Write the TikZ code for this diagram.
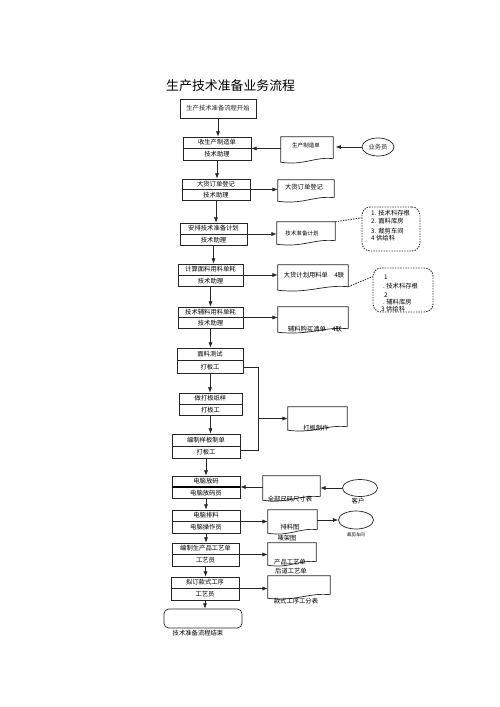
\documentclass[tikz,border=0pt]{standalone}
\usepackage{fontspec}
\setmainfont{Noto Sans CJK SC}
\usetikzlibrary{arrows.meta,calc,shapes.geometric}

% two-line task box: divider and its two texts
\newcommand{\taskparts}[3]{%
  \draw[conn] (#1.west) -- (#1.east);
  \node[lbl] (#1top) at ($(#1.north)!0.5!(#1.center)$) {#2};
  \node[lbl] (#1bot) at ($(#1.south)!0.5!(#1.center)$) {#3};
}
% document outline with a wavy bottom
\newcommand{\docshape}[1]{%
  \draw[conn] ([yshift=3pt]#1.south east) -- (#1.north east) -- (#1.north west) -- (#1.south west)
    .. controls ($(#1.south west)!0.45!(#1.south east)+(0,-3pt)$) and ($(#1.south east)!0.35!(#1.south west)+(0,5pt)$) .. ([yshift=3pt]#1.south east);
}

\begin{document}
\begin{tikzpicture}[x=0.3mm, y=-0.3mm,
    boxsize/.style 2 args={minimum width=#1*0.3mm, minimum height=#2*0.3mm},
    conn/.style={line width=0.6pt, black!85},
    arr/.style={conn, -{Latex[length=4.5pt,width=3.5pt]}},
    lbl/.style={font=\fontsize{5.4}{6.5}\selectfont, inner sep=0pt},
    lblsmall/.style={font=\fontsize{4.7}{5.5}\selectfont, inner sep=0pt},
    lbltiny/.style={font=\fontsize{3.8}{4.5}\selectfont, inner sep=0pt},
    taskbox/.style={draw, conn, inner sep=0pt, font=\fontsize{5.4}{6.5}\selectfont},
    docbox/.style={inner sep=0pt},
    actor/.style={draw, conn, ellipse, inner sep=0pt, font=\fontsize{5.4}{6.5}\selectfont},
    dotline/.style={line width=0.8pt, black!80, dash pattern=on 1.2pt off 1pt},
    notebox/.style={draw, dotline, rounded corners=7pt}]
    \fill[white] (0,0) rectangle (500,707);
    \useasboundingbox (0,0) rectangle (500,707);

    % Title
    \node[anchor=west, inner sep=0pt, font=\fontsize{11}{13}\selectfont] (title) at (166,86) {生产技术准备业务流程};

    % Main flow boxes
    \node[taskbox, boxsize={76}{19}] (start) at (218,108.5) {生产技术准备流程开始};
    \node[taskbox, boxsize={68}{23}] (b1) at (217,148.5) {}; \taskparts{b1}{收生产制造单}{技术助理}
    \node[taskbox, boxsize={68}{21}] (b2) at (216,189.5) {}; \taskparts{b2}{大货订单登记}{技术助理}
    \node[taskbox, boxsize={67}{22}] (b3) at (213.5,234) {}; \taskparts{b3}{安排技术准备计划}{技术助理}
    \node[taskbox, boxsize={65}{22}] (b4) at (210.5,275) {}; \taskparts{b4}{计算面料用料单耗}{技术助理}
    \node[taskbox, boxsize={65}{21}] (b5) at (210.5,317.5) {}; \taskparts{b5}{技术辅料用料单耗}{技术助理}
    \node[taskbox, boxsize={66}{25}] (b6) at (210,360.5) {}; \taskparts{b6}{面料测试}{打板工}
    \node[taskbox, boxsize={63}{22}] (b7) at (210.5,404) {}; \taskparts{b7}{做打板纸样}{打板工}
    \node[taskbox, boxsize={68}{24}] (b8) at (206,446) {}; \taskparts{b8}{编制样板制单}{打板工}
    \node[taskbox, boxsize={68}{22}] (b9) at (206,487) {}; \taskparts{b9}{电脑放码}{电脑放码员}
    \draw[line width=1.1pt] (b9.west) -- (b9.east);
    \node[taskbox, boxsize={68}{23}] (b10) at (206,521.5) {}; \taskparts{b10}{电脑排料}{电脑操作员}
    \node[taskbox, boxsize={67}{23}] (b11) at (205.5,554.5) {}; \taskparts{b11}{编制生产品工艺单}{工艺员}
    \node[taskbox, boxsize={68}{23}] (b12) at (205,588.5) {}; \taskparts{b12}{拟订款式工序}{工艺员}
    \node[taskbox, rounded corners=4pt, boxsize={78}{19}] (stop) at (203,618.5) {};
    \node[lbl] (stopt) at (198,633) {技术准备流程结束};

    % Documents
    \node[docbox, boxsize={52}{25}] (d1) at (307,149.5) {}; \docshape{d1}
    \node[lblsmall] (d1t) at (306,145) {生产制造单};
    \node[docbox, boxsize={56}{21}] (d2) at (306,190.5) {}; \docshape{d2}
    \node[lbl] (d2t) at (304,187) {大货订单登记};
    \node[docbox, boxsize={58}{22}] (d3) at (306,233) {}; \docshape{d3}
    \node[lblsmall] (d3t) at (302,233) {技术准备计划};
    \node[docbox, boxsize={70}{25}] (d4) at (313,277.5) {}; \docshape{d4}
    \node[lbl] (d4t) at (314,275) {大货计划用料单\quad 4联};
    \node[docbox, boxsize={70}{25}] (d5) at (313,319.5) {}; \docshape{d5}
    \node[lbl] (d5t) at (315,329) {辅料购买清单\quad 4联};
    \node[docbox, boxsize={59}{23}] (d6) at (317.5,418.5) {}; \docshape{d6}
    \node[lbl] (d6t) at (316,428) {打板制作};
    \node[docbox, boxsize={57}{24}] (d7) at (291.5,488) {}; \docshape{d7}
    \node[lbl] (d7t) at (290,499) {全部尺码尺寸表};
    \node[docbox, boxsize={49}{23}] (d8) at (292.5,521.5) {}; \docshape{d8}
    \node[lbl] (d8t) at (290,527) {排料图};
    \node[lbl] (d8b) at (287,538) {唛架图};
    \node[docbox, boxsize={48}{22}] (d9) at (292,554) {}; \docshape{d9}
    \node[lbl] (d9t) at (290,562) {产品工艺单};
    \node[lbl] (d9b) at (291,571) {后道工艺单};
    \node[docbox, boxsize={62}{22}] (d10) at (299,587) {}; \docshape{d10}
    \node[lbl] (d10t) at (296,601) {款式工序工分表};

    % Outside parties
    \node[actor, boxsize={32}{18}] (e1) at (378,147) {业务员};
    \node[actor, boxsize={35}{17}] (e2) at (360,488) {};
    \node[lbl] (e2t) at (358,501) {客户};
    \node[actor, boxsize={35}{18}] (e3) at (356,520) {};
    \node[lbltiny] (e3t) at (356,535) {裁剪车间};

    % Copy lists
    \node[notebox, boxsize={58}{44}] (c1) at (391,229) {};
    \node[lbl, anchor=west] (c1a) at (371,213) {1. 技术科存根};
    \node[lbl, anchor=west] (c1b) at (371,221) {2. 面料库房};
    \node[lbl, anchor=west] (c1c) at (371,231) {3. 裁剪车间};
    \node[lbl, anchor=west] (c1d) at (371,238) {4 供给科};
    \node[notebox, boxsize={60}{44}] (c2) at (403,290) {};
    \node[lbl, anchor=west] (c2a) at (384,277) {1};
    \node[lbl, anchor=west] (c2b) at (383,286) {.\ 技术科存根};
    \node[lbl, anchor=west] (c2c) at (384,295) {2};
    \node[lbl, anchor=west] (c2d) at (383,302) {.\ 辅料库房};
    \node[lbl, anchor=west] (c2e) at (381,309) {3 供给科};
    \draw[dotline] (d3.north east) -- ($(c1.north west)!0.25!(c1.south west)$);
    \draw[dotline] ([yshift=3pt]d4.south east) -- ($(c2.north west)!0.2!(c2.south west)$);

    % Main flow arrows
    \draw[arr] (start.south) -- (start.south |- b1.north);
    \draw[arr] (b1.south) -- (b1.south |- b2.north);
    \draw[arr] (b2.south) -- (b2.south |- b3.north);
    \draw[arr] (b3.south) -- (b3.south |- b4.north);
    \draw[arr] (b4.south) -- (b4.south |- b5.north);
    \draw[arr] (b5.south) -- (b5.south |- b6.north);
    \draw[arr] (b6.south) -- (b6.south |- b7.north);
    \draw[arr] (b7.south) -- (b7.south |- b8.north);
    \draw[arr] (b8.south) -- (b8.south |- b9.north);
    \draw[arr] (b9.south) -- (b9.south |- b10.north);
    \draw[arr] (b10.south) -- (b10.south |- b11.north);
    \draw[arr] (b11.south) -- (b11.south |- b12.north);
    \draw[arr] (b12.south) -- (b12.south |- stop.north);

    % Side arrows
    \draw[arr, shorten >=2pt] (e1.west) -- (e1.west -| d1.east);
    \draw[arr] (b1.east -| d1.west) -- (b1.east);
    \draw[arr] (b2.east) -- (b2.east -| d2.west);
    \draw[arr] (b3.east) -- (b3.east -| d3.west);
    \draw[arr] (b4.east) -- (b4.east -| d4.west);
    \draw[arr] (b5.east) -- (b5.east -| d5.west);
    \coordinate (jt) at (258,367);
    \coordinate (jb) at (258,450);
    \draw[conn] (b6.east |- jt) -- (jt) -- (jb) -- (b8.east |- jb);
    \draw[arr] (jt |- d6.west) -- (d6.west);
    \draw[arr] (e2.west) -- (e2.west -| d7.east);
    \draw[arr] (b9.east -| d7.west) -- (b9.east);
    \draw[arr] (b10.east) -- (b10.east -| d8.west);
    \draw[arr] (d8.east |- e3.west) -- (e3.west);
    \draw[arr] (b11.east) -- (b11.east -| d9.west);
    \draw[arr] (b12.east) -- (b12.east -| d10.west);
\end{tikzpicture}
\end{document}
